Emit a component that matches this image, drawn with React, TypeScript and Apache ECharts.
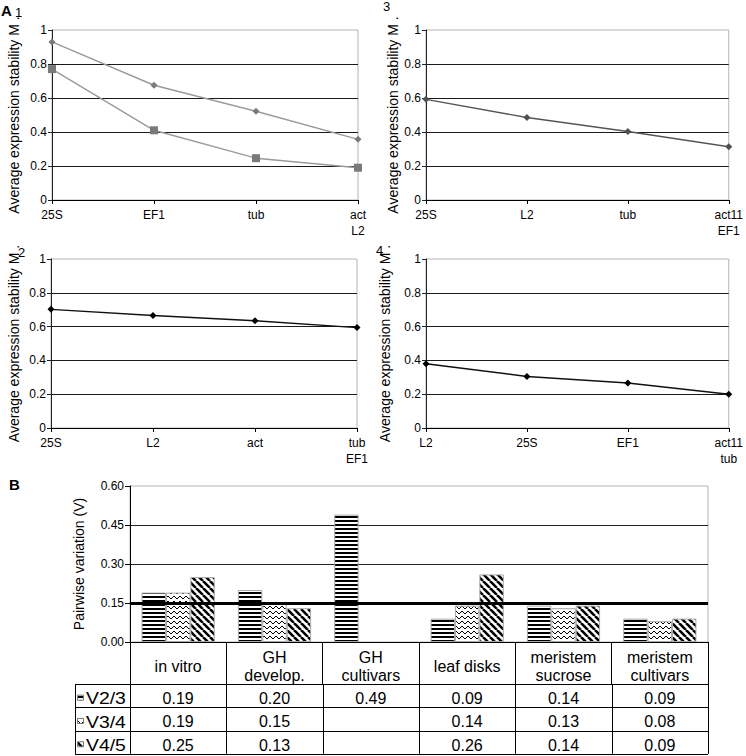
import React, { useEffect, useRef } from 'react';
import * as echarts from 'echarts';

const FONT = "'Liberation Sans', Arial, Helvetica, sans-serif";

// ---------- Panel A1 ----------
const p1Categories = ['25S', 'EF1', 'tub', 'act\nL2'];
const p1Diamond = [0.93, 0.675, 0.522, 0.357];
const p1Square = [0.77, 0.41, 0.246, 0.19];
// ---------- Panel A3 ----------
const p3Categories = ['25S', 'L2', 'tub', 'act11\nEF1'];
const p3Values = [0.592, 0.485, 0.403, 0.313];
// ---------- Panel A2 ----------
const p2Categories = ['25S', 'L2', 'act', 'tub\nEF1'];
const p2Values = [0.702, 0.666, 0.635, 0.594];
// ---------- Panel A4 ----------
const p4Categories = ['L2', '25S', 'EF1', 'act11\ntub'];
const p4Values = [0.38, 0.305, 0.266, 0.2];

const stabilityTitle = 'Average expression stability M .';

// ---------- Panel B ----------
const bCategories = ['in vitro', 'GH\ndevelop.', 'GH\ncultivars', 'leaf disks', 'meristem\nsucrose', 'meristem\ncultivars'];
const bSeriesNames = ['V2/3', 'V3/4', 'V4/5'];
const v23 = [0.19, 0.2, 0.49, 0.09, 0.14, 0.09];
const v34 = [0.19, 0.15, null, 0.14, 0.13, 0.08];
const v45 = [0.25, 0.13, null, 0.26, 0.14, 0.09];
const cutoff = 0.15;

function makeCanvas(w: number, h: number, draw: (c: CanvasRenderingContext2D) => void) {
  const cv = document.createElement('canvas');
  cv.width = w;
  cv.height = h;
  const ctx = cv.getContext('2d')!;
  ctx.fillStyle = '#fff';
  ctx.fillRect(0, 0, w, h);
  ctx.fillStyle = '#000';
  ctx.strokeStyle = '#000';
  draw(ctx);
  return { image: cv, repeat: 'repeat', imageWidth: w, imageHeight: h } as any;
}

function makePatterns() {
  const hstripe = makeCanvas(4, 4, (c) => {
    c.fillRect(0, 0, 4, 2);
  });
  const zigzag = makeCanvas(6, 5, (c) => {
    c.lineWidth = 1;
    c.beginPath();
    c.moveTo(0, 1);
    c.lineTo(3, 4);
    c.lineTo(6, 1);
    c.stroke();
  });
  const diag = makeCanvas(7, 7, (c) => {
    c.lineWidth = 2.6;
    for (const k of [-7, 0, 7]) {
      c.beginPath();
      c.moveTo(k, 0);
      c.lineTo(k + 7, 7);
      c.stroke();
    }
  });
  return [hstripe, zigzag, diag];
}

type Panel = {
  left: number; top: number; width: number; height: number;
  cats: string[]; nameGap: number;
};

const panels: Panel[] = [
  { left: 52, top: 30, width: 306, height: 170, cats: p1Categories, nameGap: 31 },
  { left: 426, top: 30, width: 306, height: 170, cats: p3Categories, nameGap: 25 },
  { left: 51, top: 259, width: 306, height: 169, cats: p2Categories, nameGap: 30 },
  { left: 426, top: 259, width: 306, height: 169, cats: p4Categories, nameGap: 34 },
];

const gB = { left: 130, top: 486, width: 578, height: 156 };
const headerH = 42;
const rowH = 23.3;
const tableLeft = 75;

export default function App() {
  const ref = useRef<HTMLDivElement>(null);
  useEffect(() => {
    document.body.style.margin = '0';
    const chart = echarts.init(ref.current!, null, { renderer: 'svg' });
    const patterns = makePatterns();

    const grids: any[] = panels.map((p) => ({
      left: p.left, top: p.top, width: p.width, height: p.height,
      show: true, borderColor: '#b4b4b4', borderWidth: 1, containLabel: false,
    }));
    grids.push({ ...gB, show: true, borderColor: '#b4b4b4', borderWidth: 1, containLabel: false });

    const xAxes: any[] = panels.map((p, i) => ({
      type: 'category', gridIndex: i, data: p.cats, boundaryGap: false,
      axisLine: { lineStyle: { color: '#000', width: 1 } },
      axisTick: { show: true, length: 4, lineStyle: { color: '#000' } },
      axisLabel: { color: '#000', fontSize: 12, fontFamily: FONT, margin: 7, lineHeight: 16, interval: 0 },
      splitLine: { show: false },
    }));
    xAxes.push({
      type: 'category', gridIndex: 4, data: bCategories, boundaryGap: true,
      axisLine: { lineStyle: { color: '#000', width: 1 } },
      axisTick: { show: true, length: headerH, lineStyle: { color: '#000' } },
      axisLabel: {
        color: '#000', fontSize: 16, fontFamily: FONT, margin: 24, lineHeight: 18,
        verticalAlign: 'middle', interval: 0,
      },
      splitLine: { show: false },
    });

    const yAxes: any[] = panels.map((p, i) => ({
      type: 'value', gridIndex: i, min: 0, max: 1, interval: 0.2,
      name: stabilityTitle, nameLocation: 'middle', nameGap: p.nameGap,
      nameTextStyle: { color: '#000', fontSize: 14, fontFamily: FONT },
      axisLine: { show: true, lineStyle: { color: '#222' } },
      axisTick: { show: true, length: 4, lineStyle: { color: '#222' } },
      axisLabel: { color: '#000', fontSize: 12, fontFamily: FONT, margin: 5 },
      splitLine: { show: true, showMaxLine: false, lineStyle: { color: '#1a1a1a', width: 1 } },
    }));
    yAxes.push({
      type: 'value', gridIndex: 4, min: 0, max: 0.6, interval: 0.15,
      name: 'Pairwise variation (V)', nameLocation: 'middle', nameGap: 44,
      nameTextStyle: { color: '#000', fontSize: 14, fontFamily: FONT },
      axisLine: { show: true, lineStyle: { color: '#000' } },
      axisTick: { show: true, length: 5, lineStyle: { color: '#000' } },
      axisLabel: { color: '#000', fontSize: 12, fontFamily: FONT, margin: 6, formatter: (v: number) => v.toFixed(2) },
      splitLine: { show: true, showMaxLine: false, lineStyle: { color: '#222', width: 1 } },
    });

    const lineSeries = (i: number, data: number[], color: string, lineColor: string, symbol: string, size: number) => ({
      type: 'line', xAxisIndex: i, yAxisIndex: i, data,
      symbol, symbolSize: size, showSymbol: true,
      lineStyle: { color: lineColor, width: 1.4 },
      itemStyle: { color },
      z: 5,
    });

    const series: any[] = [
      lineSeries(0, p1Diamond, '#7a7a7a', '#9a9a9a', 'diamond', 7),
      lineSeries(0, p1Square, '#7a7a7a', '#9a9a9a', 'rect', 8),
      lineSeries(1, p3Values, '#505050', '#555', 'diamond', 7),
      lineSeries(2, p2Values, '#000', '#111', 'diamond', 7),
      lineSeries(3, p4Values, '#000', '#111', 'diamond', 7),
    ];
    const bData = [v23, v34, v45];
    bData.forEach((d, k) => {
      const s: any = {
        type: 'bar', name: bSeriesNames[k], xAxisIndex: 4, yAxisIndex: 4, data: d,
        barGap: '0%', barCategoryGap: '24%',
        itemStyle: { color: patterns[k], borderColor: '#aaa', borderWidth: 1 },
      };
      if (k === 0) {
        s.markLine = {
          silent: true, symbol: 'none', label: { show: false },
          lineStyle: { color: '#000', width: 3, type: 'solid' },
          data: [{ yAxis: cutoff }],
          z: 10,
        };
      }
      series.push(s);
    });

    // ---------- table + labels (graphic) ----------
    const g: any[] = [];
    const txt = (x: number, y: number, text: string, font: string, align = 'center', vAlign = 'middle', scaleX = 1) => ({
      type: 'text', x, y, scaleX, silent: true,
      style: { text, font, fill: '#000', align, verticalAlign: vAlign, textAlign: align, textVerticalAlign: vAlign },
    });
    const ln = (x1: number, y1: number, x2: number, y2: number) => ({
      type: 'line', silent: true, shape: { x1, y1, x2, y2 }, style: { stroke: '#000', lineWidth: 1 },
    });
    g.push(txt(1, 3, 'A', `bold 15px ${FONT}`, 'left', 'top'));
    g.push(txt(15, 6, '1', `13px ${FONT}`, 'left', 'top'));
    g.push(txt(383, 0, '3', `13px ${FONT}`, 'left', 'top'));
    g.push(txt(18, 246, '2', `13px ${FONT}`, 'left', 'top'));
    g.push(txt(376, 244, '4', `13px ${FONT}`, 'left', 'top'));
    g.push(txt(9, 477, 'B', `bold 15px ${FONT}`, 'left', 'top'));

    const colW = gB.width / bCategories.length;
    const tableTop = gB.top + gB.height + headerH;
    const tableBottom = tableTop + rowH * bData.length;
    const right = gB.left + gB.width;
    for (let r = 0; r <= bData.length; r++) {
      const y = Math.round(tableTop + r * rowH) + 0.5;
      g.push(ln(tableLeft, y, right, y));
    }
    g.push(ln(tableLeft + 0.5, tableTop, tableLeft + 0.5, tableBottom));
    for (let c = 0; c <= bCategories.length; c++) {
      const x = Math.round(gB.left + c * colW) + 0.5;
      g.push(ln(x, tableTop, x, tableBottom));
    }
    bData.forEach((d, r) => {
      const cy = tableTop + (r + 0.5) * rowH + 3;
      g.push({
        type: 'rect', silent: true, z: 100,
        shape: { x: tableLeft + 2.5, y: cy - 3.5, width: 6, height: 5 },
        style: { fill: patterns[r], stroke: '#777', lineWidth: 1 },
      });
      g.push(txt(tableLeft + 11, cy, bSeriesNames[r], `17px ${FONT}`, 'left', 'middle', 1.14));
      d.forEach((v, c) => {
        if (v == null) return;
        g.push(txt(gB.left + (c + 0.5) * colW, cy, v.toFixed(2), `16px ${FONT}`, 'center', 'middle'));
      });
    });

    chart.setOption({
      animation: false,
      backgroundColor: '#fff',
      grid: grids,
      xAxis: xAxes,
      yAxis: yAxes,
      series,
      graphic: { elements: g },
    });
    return () => chart.dispose();
  }, []);
  return <div ref={ref} style={{ width: 746, height: 756 }} />;
}
